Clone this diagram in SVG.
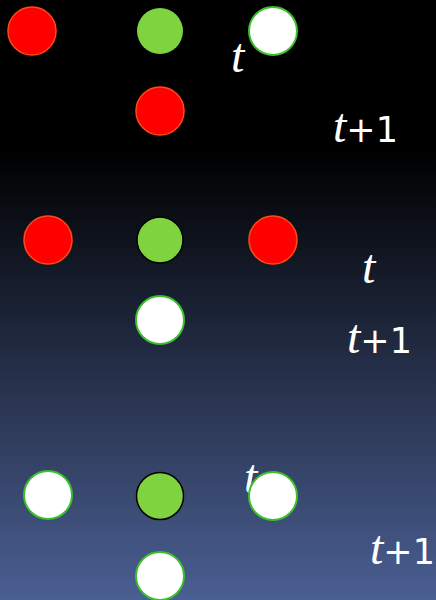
<svg xmlns="http://www.w3.org/2000/svg" width="436" height="600" viewBox="0 0 436 600">
<defs>
<linearGradient id="bg" x1="0" y1="0" x2="0" y2="1">
<stop offset="0" stop-color="#000000"/>
<stop offset="0.25" stop-color="#000000"/>
<stop offset="1" stop-color="#4a5f92"/>
</linearGradient>
<style>
.red{fill:#ff0000;stroke:#ff4a12;stroke-width:1.5}
.white{fill:#ffffff;stroke:#3cbf2c;stroke-width:2}
.green{fill:#7ed33f}
.greenk{fill:#7ed33f;stroke:#000;stroke-width:1.5}
.t{font-family:"Liberation Serif",serif;font-style:italic;font-size:48px;fill:#fff}
.n{font-family:"DejaVu Sans","Liberation Sans",sans-serif;font-size:35px;fill:#fff}
</style>
</defs>
<rect width="436" height="600" fill="url(#bg)"/>
<g id="row1">
<g id="r1-left"><circle class="red" cx="32" cy="31" r="24"/></g>
<g id="r1-mid"><circle class="green" cx="160" cy="31" r="23"/></g>
<g id="r1-right"><circle class="white" cx="273" cy="31" r="24"/></g>
<g id="r1-below"><circle class="red" cx="160" cy="111" r="24"/></g>
<text class="t" x="231" y="72">t</text>
<text x="333" y="142"><tspan class="t">t</tspan><tspan class="n">+1</tspan></text>
</g>
<g id="row2">
<g id="r2-left"><circle class="red" cx="48" cy="240" r="24"/></g>
<g id="r2-mid"><circle class="greenk" cx="160" cy="240" r="23"/></g>
<g id="r2-right"><circle class="red" cx="273" cy="240" r="24"/></g>
<g id="r2-below"><circle class="white" cx="160" cy="320" r="24"/></g>
<text class="t" x="362" y="283">t</text>
<text x="347" y="353"><tspan class="t">t</tspan><tspan class="n">+1</tspan></text>
</g>
<g id="row3">
<g id="r3-left"><circle class="white" cx="48" cy="495" r="24"/></g>
<g id="r3-mid"><circle class="greenk" cx="160" cy="496" r="23.5"/></g>
<g id="r3-below"><circle class="white" cx="160" cy="576" r="24"/></g>
<text class="t" x="244" y="493">t</text>
<g id="r3-right"><circle class="white" cx="273" cy="496" r="24"/></g>
<text x="370" y="564"><tspan class="t">t</tspan><tspan class="n">+1</tspan></text>
</g>
</svg>
